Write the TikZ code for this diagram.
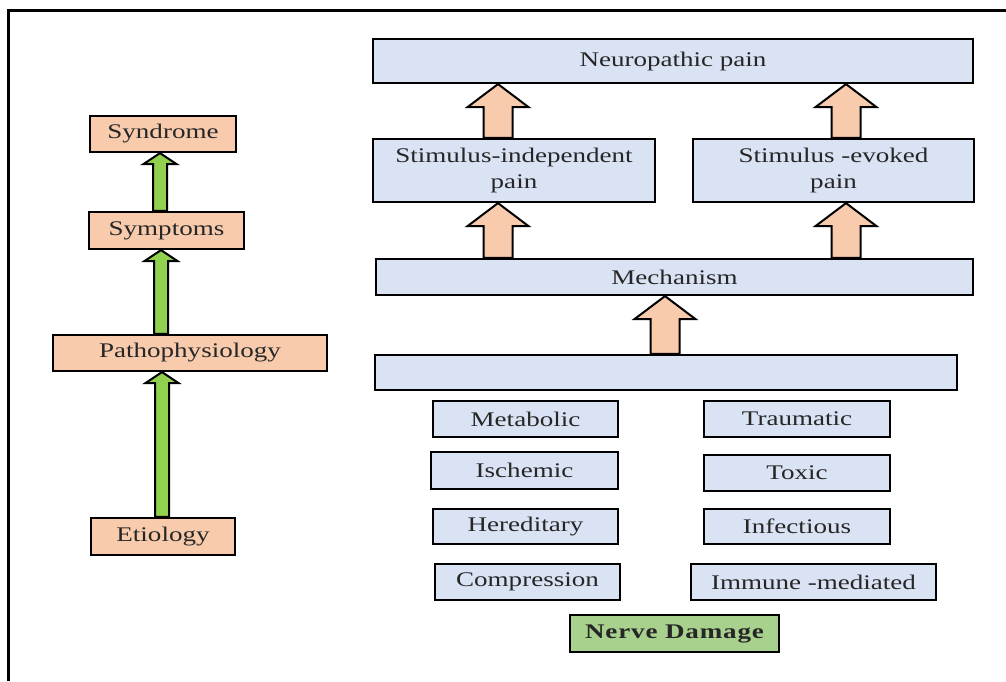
\documentclass[tikz,border=0pt]{standalone}
\usepackage{fontspec}
\setmainfont{Liberation Serif}[FakeStretch=1.3]
\usetikzlibrary{calc}
\definecolor{peach}{HTML}{F8CBAD}
\definecolor{paleblue}{HTML}{DAE3F3}
\definecolor{arrgreen}{HTML}{92D050}
\definecolor{boxgreen}{HTML}{A9D18E}
\definecolor{txt}{HTML}{262626}
\tikzset{
  box/.style={draw=black, line width=2.2pt, inner sep=0pt, align=center, text=txt,
    font=\fontsize{20.8}{26}\selectfont},
  obox/.style={box, fill=peach},
  bbox/.style={box, fill=paleblue},
  gbox/.style={box, fill=boxgreen, font=\fontsize{20.8}{26}\selectfont\bfseries\addfontfeatures{LetterSpace=4}},
  garrow/.style={draw=black, line width=2pt, fill=arrgreen, line join=miter},
  oarrow/.style={draw=black, line width=2pt, fill=peach, line join=miter},
}
% #1 from node (bottom), #2 to node (top), #3 x centre (pt), #4 shaft half, #5 head half, #6 head length, #7 style
\newcommand\blockarrow[7]{%
  \draw[#7] let \p1=(#1.north), \p2=(#2.south) in
    (#3pt-#4pt,\y1) -- (#3pt-#4pt,\y2-#6pt) -- (#3pt-#5pt,\y2-#6pt) -- (#3pt,\y2)
    -- (#3pt+#5pt,\y2-#6pt) -- (#3pt+#4pt,\y2-#6pt) -- (#3pt+#4pt,\y1) -- cycle;}
\begin{document}
\begin{tikzpicture}[x=1pt,y=-1pt]
\useasboundingbox (0,0) rectangle (1006,681);
\draw[line width=3pt] (8,681) -- (8,10) -- (1006,10);
% left column
\node[obox, minimum width=146pt, minimum height=36pt] (syn) at (163,134) {Syndrome};
\node[obox, minimum width=155pt, minimum height=37pt] (sym) at (166.5,230.5) {Symptoms};
\node[obox, minimum width=274pt, minimum height=36pt] (pat) at (190,353) {Pathophysiology};
\node[obox, minimum width=144pt, minimum height=37pt] (eti) at (163,536.5) {Etiology};
\blockarrow{sym}{syn}{160}{7}{16.5}{11}{garrow}
\blockarrow{pat}{sym}{161}{7}{16.5}{11}{garrow}
\blockarrow{eti}{pat}{162}{7}{16.5}{11}{garrow}
% right column
\node[bbox, minimum width=600pt, minimum height=44pt] (np) at (673,61) {Neuropathic pain};
\node[bbox, minimum width=282pt, minimum height=63pt] (si) at (514,170.5) {Stimulus-independent\\pain};
\node[bbox, minimum width=281pt, minimum height=63pt] (se) at (833.5,170.5) {Stimulus -evoked\\pain};
\node[bbox, minimum width=597pt, minimum height=36pt] (mech) at (674.5,277) {Mechanism};
\node[bbox, minimum width=582pt, minimum height=35pt] (blank) at (666,372.5) {};
\node[bbox, minimum width=185pt, minimum height=36pt] (met) at (525.5,419) {Metabolic};
\node[bbox, minimum width=186pt, minimum height=36pt] (tra) at (797,419) {Traumatic};
\node[bbox, minimum width=187pt, minimum height=37pt] (isc) at (524.5,470.5) {Ischemic};
\node[bbox, minimum width=186pt, minimum height=36pt] (tox) at (797,473) {Toxic};
\node[bbox, minimum width=185pt, minimum height=35pt] (her) at (525.5,526.5) {Hereditary};
\node[bbox, minimum width=186pt, minimum height=35pt] (inf) at (797,526.5) {Infectious};
\node[bbox, minimum width=185pt, minimum height=36pt] (com) at (527.5,582) {Compression};
\node[bbox, minimum width=245pt, minimum height=36pt] (imm) at (813.5,582) {Immune -mediated};
\node[gbox, minimum width=209pt, minimum height=37pt] (ner) at (674.5,633.5) {Nerve Damage};
\blockarrow{si}{np}{498}{14.5}{30.5}{23}{oarrow}
\blockarrow{se}{np}{846}{14.5}{30.5}{23}{oarrow}
\blockarrow{mech}{si}{498}{14.5}{30.5}{23}{oarrow}
\blockarrow{mech}{se}{846}{14.5}{30.5}{23}{oarrow}
\blockarrow{blank}{mech}{665}{14.5}{30.5}{23}{oarrow}
\end{tikzpicture}
\end{document}
